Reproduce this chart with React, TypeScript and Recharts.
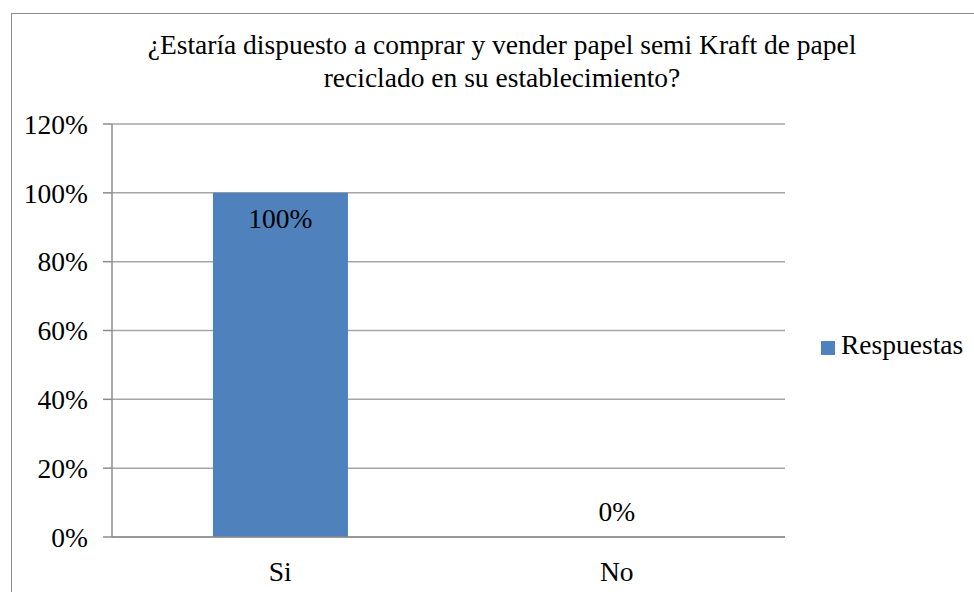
import { ComposedChart, Bar, Scatter, XAxis, YAxis, CartesianGrid, Legend, LabelList } from 'recharts';

const categories = ['Si', 'No'];
const respuestas = [1, 0];
const yTicks = [0, 0.2, 0.4, 0.6, 0.8, 1, 1.2];
const titleLines = [
  '¿Estaría dispuesto a comprar y vender papel semi Kraft de papel',
  'reciclado en su establecimiento?'
];

const data = categories.map((name, i) => ({ name, Respuestas: respuestas[i], edge: i }));

const FONT = 'Liberation Serif';
const FS = 27.5;
const pct = (v: number) => `${Math.round(v * 100)}%`;

// value labels: inside the top of a filled bar, just above an empty one
const renderValue = (props: any) => {
  const { x, y, width, height, value } = props;
  const cx = x + width / 2;
  const cy = y + height / 2;
  const ty = value > 0 ? cy + 35 : cy - 16;
  return (
    <text x={cx} y={ty} textAnchor="middle" fill="#000" fontSize={FS} fontFamily={FONT}>
      {pct(value)}
    </text>
  );
};

const App = () => {
  return (
    <div style={{ position: 'fixed', left: 0, top: 0, width: 974, height: 592, overflow: 'hidden', background: '#fff' }}>
      <div
        style={{
          position: 'absolute',
          left: 11,
          top: 13,
          width: 990,
          height: 620,
          border: '1px solid #8c8c8c',
          boxSizing: 'border-box'
        }}
      />
      <div
        style={{
          position: 'absolute',
          left: 0,
          top: 28,
          width: 1004,
          textAlign: 'center',
          fontFamily: FONT,
          fontSize: FS,
          lineHeight: '33px',
          color: '#000'
        }}
      >
        {titleLines.map((t) => (
          <div key={t}>{t}</div>
        ))}
      </div>
      <div style={{ position: 'absolute', left: 0, top: 0 }}>
        <ComposedChart
          width={974}
          height={592}
          data={data}
          margin={{ top: 124, right: 189, bottom: 0, left: 0 }}
          barCategoryGap="30%"
        >
          <CartesianGrid vertical={false} stroke="#a6a6a6" strokeWidth={1.5} />
          <XAxis
            xAxisId="cat"
            dataKey="name"
            axisLine={{ stroke: '#8c8c8c', strokeWidth: 1.5 }}
            tickLine={false}
            tickMargin={18}
            tick={{ fill: '#000', fontSize: FS, fontFamily: FONT }}
            height={55}
          />
          <XAxis
            xAxisId="edge"
            type="number"
            dataKey="edge"
            domain={[-0.5, 1.5]}
            ticks={[-0.5, 0.5, 1.5]}
            tick={false}
            tickSize={8}
            tickLine={{ stroke: '#8c8c8c', strokeWidth: 1.5 }}
            axisLine={false}
            height={0}
          />
          <YAxis
            domain={[0, 1.2]}
            ticks={yTicks}
            tickFormatter={pct}
            width={112}
            tickSize={9}
            tickMargin={15}
            axisLine={{ stroke: '#8c8c8c', strokeWidth: 1.5 }}
            tickLine={{ stroke: '#8c8c8c', strokeWidth: 1.5 }}
            tick={{ fill: '#000', fontSize: FS, fontFamily: FONT }}
            interval={0}
          />
          <Legend
            layout="horizontal"
            verticalAlign="middle"
            align="center"
            iconType="square"
            iconSize={14}
            formatter={(v: string) => <span style={{ color: '#000', fontFamily: FONT, paddingLeft: 2 }}>{v}</span>}
            wrapperStyle={{ left: 821, top: 329, width: 'auto', fontSize: FS, fontFamily: FONT }}
          />
          <Bar xAxisId="cat" dataKey="Respuestas" fill="#4f81bd" isAnimationActive={false} />
          <Scatter
            xAxisId="cat"
            dataKey="Respuestas"
            legendType="none"
            shape={() => <g />}
            isAnimationActive={false}
          >
            <LabelList dataKey="Respuestas" content={renderValue} />
          </Scatter>
        </ComposedChart>
      </div>
    </div>
  );
};

export default App;
